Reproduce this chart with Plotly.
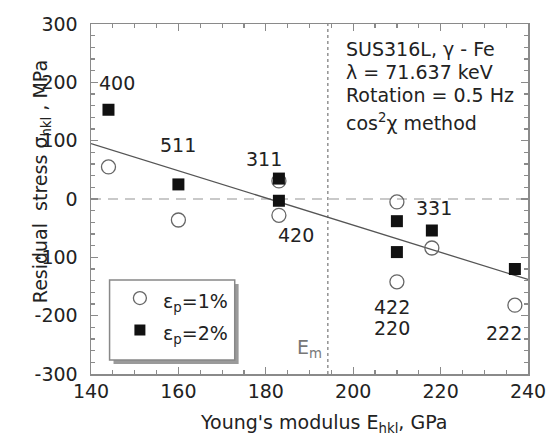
import plotly.graph_objects as go

# ---- data ----
E_hkl_1 = [144, 160, 183, 183, 210, 210, 218, 237]
sigma_1 = [55, -36, 31, -28, -5, -142, -84, -182]
E_hkl_2 = [144, 160, 183, 183, 210, 210, 218, 237]
sigma_2 = [153, 25, 35, -3, -38, -91, -54, -120]
fit_x = [140, 240]
fit_y = [95, -138]
E_m = 194.2
hkl_labels = ["400", "511", "311", "420", "331", "422", "220", "222"]
hkl_x = [146, 160, 179.5, 187, 218.6, 208.8, 208.8, 234.4]
hkl_y = [199, 93, 69, -62, -15, -185, -221, -230]
info_lines = ["SUS316L, γ - Fe", "λ = 71.637 keV", "Rotation = 0.5 Hz", "cos<sup>2</sup>χ method"]
info_y = [258, 218, 178, 132]
legend_names = ["ε<sub>p</sub>=1%", "ε<sub>p</sub>=2%"]
x_ticks = [140, 160, 180, 200, 220, 240]
y_ticks = [-300, -200, -100, 0, 100, 200, 300]

FONT = "DejaVu Sans, Liberation Sans, Arial, sans-serif"
FS = 19
TXT = "#222222"

fig = go.Figure()
fig.add_trace(go.Scatter(x=fit_x, y=fit_y, mode="lines",
                         line=dict(color="#555555", width=1.3), showlegend=False, hoverinfo="skip"))
fig.add_trace(go.Scatter(x=E_hkl_1, y=sigma_1, mode="markers", name=legend_names[0], showlegend=False,
                         marker=dict(symbol="circle-open", size=14, color="#666666", line=dict(width=1.3))))
fig.add_trace(go.Scatter(x=E_hkl_2, y=sigma_2, mode="markers", name=legend_names[1], showlegend=False,
                         marker=dict(symbol="square", size=12, color="#111111")))

fig.add_hline(y=0, line=dict(color="#b8b8b8", width=1.5, dash="10px,7px"), layer="below")
fig.add_vline(x=E_m, line=dict(color="#777777", width=1.2, dash="dot"), layer="below")

for t, x, y in zip(hkl_labels, hkl_x, hkl_y):
    fig.add_annotation(x=x, y=y, text=t, showarrow=False, font=dict(size=FS, color=TXT, family=FONT))
for t, y in zip(info_lines, info_y):
    fig.add_annotation(x=198, y=y, text=t, showarrow=False, xanchor="left",
                       font=dict(size=FS, color=TXT, family=FONT))
fig.add_annotation(x=193.3, y=-256, text="E<sub>m</sub>", showarrow=False, xanchor="right",
                   font=dict(size=FS, color="#777777", family=FONT))

# axis titles
fig.add_annotation(xref="paper", yref="paper", x=0.532, y=-0.1, yanchor="top",
                   text="Young's modulus E<sub>hkl</sub>, GPa", showarrow=False,
                   font=dict(size=FS, color=TXT, family=FONT))
fig.add_annotation(xref="paper", yref="paper", x=-0.146, y=0.55, textangle=-90,
                   text="Residual  stress σ<sub>hkl</sub> , MPa", showarrow=False,
                   font=dict(size=FS, color=TXT, family=FONT))

# hand-drawn legend box (shadow + frame + symbols + labels)
fig.add_shape(type="rect", xref="paper", yref="paper", x0=0.0515, x1=0.3378, y0=0.0286, y1=0.257,
              fillcolor="#9a9a9a", line=dict(width=0), layer="above")
fig.add_shape(type="rect", xref="paper", yref="paper", x0=0.0425, x1=0.3289, y0=0.04, y1=0.2686,
              fillcolor="white", line=dict(color="#888888", width=1.5), layer="above")
fig.add_shape(type="circle", xref="paper", yref="paper", xsizemode="pixel", ysizemode="pixel",
              xanchor=0.1119, yanchor=0.217, x0=-6.5, x1=6.5, y0=-6.5, y1=6.5,
              line=dict(color="#666666", width=1.3), fillcolor="white", layer="above")
fig.add_shape(type="rect", xref="paper", yref="paper", xsizemode="pixel", ysizemode="pixel",
              xanchor=0.1119, yanchor=0.1257, x0=-5.5, x1=5.5, y0=-5.5, y1=5.5,
              line=dict(width=0), fillcolor="#111111", layer="above")
for name, yy in zip(legend_names, [0.205, 0.114]):
    fig.add_annotation(xref="paper", yref="paper", x=0.161, y=yy, xanchor="left", yanchor="middle",
                       text=name, showarrow=False, font=dict(size=FS, color=TXT, family=FONT))

axis_common = dict(showgrid=False, zeroline=False, showline=True, mirror="ticks",
                   linecolor="#8a8a8a", linewidth=1.5, ticks="inside", ticklen=7,
                   tickcolor="#8a8a8a", tickwidth=1.2,
                   tickfont=dict(size=FS, color=TXT, family=FONT))
fig.update_xaxes(range=[140, 240], tickvals=x_ticks, ticktext=[str(v) for v in x_ticks],
                 minor=dict(dtick=5, ticks="inside", ticklen=4, tickcolor="#8a8a8a"),
                 **axis_common)
fig.update_yaxes(range=[-300, 300], tickvals=y_ticks, ticktext=[str(v) for v in y_ticks],
                 ticklabelstandoff=8,
                 minor=dict(dtick=20, ticks="inside", ticklen=4, tickcolor="#8a8a8a"),
                 **axis_common)

fig.update_layout(
    width=558, height=436,
    margin=dict(l=91, r=20, t=24, b=62),
    plot_bgcolor="white", paper_bgcolor="white",
    font=dict(family=FONT, size=FS, color=TXT),
    showlegend=False,
)

# remove the browser's default 8px body margin so the figure fills the window exactly
fig.write_html("out.html", config={"displayModeBar": False, "staticPlot": True},
               post_script="document.body.style.margin='0';document.body.style.overflow='hidden';")
